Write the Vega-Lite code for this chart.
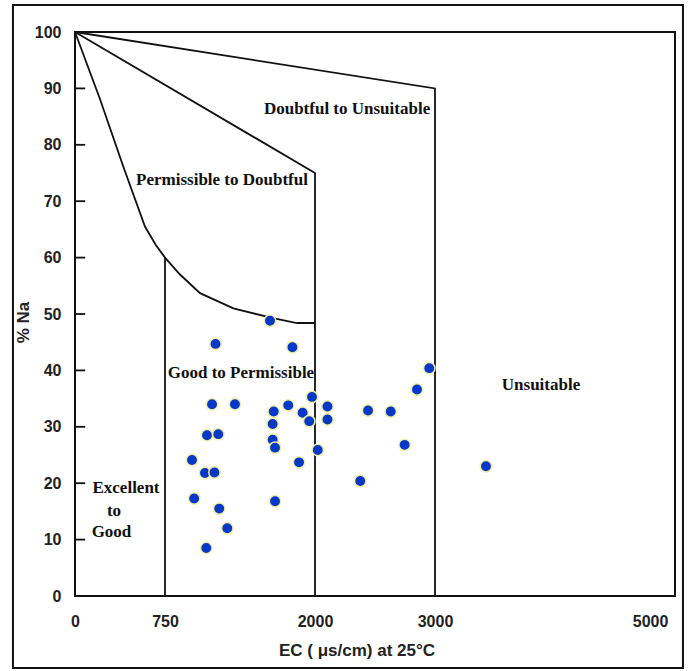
{
  "$schema": "https://vega.github.io/schema/vega-lite/v6.json",
  "width": 600,
  "height": 564,
  "autosize": {"type": "none"},
  "padding": {"left": 75, "top": 32, "right": 18, "bottom": 75},
  "background": "white",
  "config": {
    "view": {"stroke": "#111", "strokeWidth": 2},
    "axis": {"grid": false, "labelFont": "Liberation Sans", "labelFontWeight": "bold", "labelFontSize": 16, "labelColor": "#222", "titleFont": "Liberation Sans", "titleFontWeight": "bold", "titleFontSize": 17, "titleColor": "#222"}
  },
  "datasets": {
    "boundaries": [
      {"seg": "A", "i": 0, "ec": 0, "na": 100},
      {"seg": "A", "i": 1, "ec": 3000, "na": 90},
      {"seg": "A", "i": 2, "ec": 3000, "na": 0},
      {"seg": "B", "i": 0, "ec": 0, "na": 100},
      {"seg": "B", "i": 1, "ec": 2000, "na": 75},
      {"seg": "B", "i": 2, "ec": 2000, "na": 0},
      {"seg": "C", "i": 0, "ec": 0, "na": 100},
      {"seg": "C", "i": 1, "ec": 205, "na": 88.3},
      {"seg": "C", "i": 2, "ec": 403, "na": 76.1},
      {"seg": "C", "i": 3, "ec": 583, "na": 65.5},
      {"seg": "C", "i": 4, "ec": 675, "na": 62.2},
      {"seg": "C", "i": 5, "ec": 750, "na": 60},
      {"seg": "C", "i": 6, "ec": 875, "na": 57},
      {"seg": "C", "i": 7, "ec": 1042, "na": 53.7},
      {"seg": "C", "i": 8, "ec": 1320, "na": 51},
      {"seg": "C", "i": 9, "ec": 1640, "na": 49.3},
      {"seg": "C", "i": 10, "ec": 1850, "na": 48.4},
      {"seg": "C", "i": 11, "ec": 2000, "na": 48.4},
      {"seg": "D", "i": 0, "ec": 750, "na": 60},
      {"seg": "D", "i": 1, "ec": 750, "na": 0},
      {"seg": "t10", "i": 0, "ec": 0, "na": 10}, {"seg": "t10", "i": 1, "ec": 85, "na": 10},
      {"seg": "t20", "i": 0, "ec": 0, "na": 20}, {"seg": "t20", "i": 1, "ec": 85, "na": 20},
      {"seg": "t30", "i": 0, "ec": 0, "na": 30}, {"seg": "t30", "i": 1, "ec": 85, "na": 30},
      {"seg": "t40", "i": 0, "ec": 0, "na": 40}, {"seg": "t40", "i": 1, "ec": 85, "na": 40},
      {"seg": "t50", "i": 0, "ec": 0, "na": 50}, {"seg": "t50", "i": 1, "ec": 85, "na": 50},
      {"seg": "t60", "i": 0, "ec": 0, "na": 60}, {"seg": "t60", "i": 1, "ec": 85, "na": 60},
      {"seg": "t70", "i": 0, "ec": 0, "na": 70}, {"seg": "t70", "i": 1, "ec": 85, "na": 70},
      {"seg": "t80", "i": 0, "ec": 0, "na": 80}, {"seg": "t80", "i": 1, "ec": 85, "na": 80},
      {"seg": "t90", "i": 0, "ec": 0, "na": 90}, {"seg": "t90", "i": 1, "ec": 85, "na": 90}
    ],
    "samples": [
      {"ec": 1625, "na": 48.8}, {"ec": 1171, "na": 44.7}, {"ec": 1812, "na": 44.1},
      {"ec": 1142, "na": 34.0}, {"ec": 1333, "na": 34.0}, {"ec": 1975, "na": 35.3},
      {"ec": 1777, "na": 33.8}, {"ec": 1656, "na": 32.7}, {"ec": 2104, "na": 33.6},
      {"ec": 1897, "na": 32.5}, {"ec": 1952, "na": 31.0}, {"ec": 2104, "na": 31.3},
      {"ec": 1647, "na": 30.5}, {"ec": 1100, "na": 28.5}, {"ec": 1194, "na": 28.7},
      {"ec": 1647, "na": 27.7}, {"ec": 1667, "na": 26.3}, {"ec": 2023, "na": 25.9},
      {"ec": 1867, "na": 23.7}, {"ec": 975, "na": 24.1}, {"ec": 1083, "na": 21.8},
      {"ec": 1162, "na": 21.9}, {"ec": 993, "na": 17.3}, {"ec": 1667, "na": 16.8},
      {"ec": 1202, "na": 15.5}, {"ec": 1269, "na": 12.0}, {"ec": 1094, "na": 8.5},
      {"ec": 2952, "na": 40.4}, {"ec": 2850, "na": 36.6}, {"ec": 2442, "na": 32.9},
      {"ec": 2631, "na": 32.7}, {"ec": 2747, "na": 26.8}, {"ec": 2377, "na": 20.4},
      {"ec": 3474, "na": 23.0}
    ],
    "zones": [
      {"label": "Doubtful to Unsuitable", "ec": 2267, "na": 86.3},
      {"label": "Permissible to Doubtful", "ec": 1225, "na": 73.8},
      {"label": "Good to Permissible", "ec": 1383, "na": 39.5},
      {"label": "Unsuitable", "ec": 3986, "na": 37.4},
      {"label": "Excellent", "ec": 425, "na": 19.1},
      {"label": "to", "ec": 325, "na": 15.0},
      {"label": "Good", "ec": 304, "na": 11.4}
    ]
  },
  "layer": [
    {
      "data": {"name": "boundaries"},
      "mark": {"type": "line", "color": "#111", "strokeWidth": 1.8},
      "encoding": {
        "x": {"field": "ec", "type": "quantitative",
          "scale": {"domain": [0, 3000, 5232], "range": [0, 360, 600], "nice": false, "zero": false},
          "axis": {"values": [0, 750, 2000, 3000, 5000], "format": "d", "ticks": false, "domain": false, "labelPadding": 25, "labelBaseline": "middle", "labelFlush": false, "title": "EC ( μs/cm) at 25°C", "titleX": 281.5, "titleY": 54, "titleBaseline": "middle"}},
        "y": {"field": "na", "type": "quantitative",
          "scale": {"domain": [0, 100], "nice": false, "zero": true},
          "axis": {"values": [0, 10, 20, 30, 40, 50, 60, 70, 80, 90, 100], "ticks": false, "domain": false, "labelPadding": 14, "labelFlush": false, "title": "% Na", "titleX": -52, "titleY": 290, "titleBaseline": "middle", "titleAlign": "center"}},
        "detail": {"field": "seg"},
        "order": {"field": "i", "type": "quantitative"}
      }
    },
    {
      "data": {"values": [{"frame": "outer"}]},
      "mark": {"type": "rect", "filled": false, "stroke": "#111", "strokeWidth": 2},
      "encoding": {
        "x": {"datum": -517, "type": "quantitative"},
        "x2": {"datum": 5306},
        "y": {"datum": 104.79, "type": "quantitative"},
        "y2": {"datum": -12.77}
      }
    },
    {
      "data": {"name": "samples"},
      "mark": {"type": "circle", "size": 130, "color": "#0638c8", "opacity": 1, "stroke": "#f0eeaa", "strokeWidth": 1.5},
      "encoding": {
        "x": {"field": "ec", "type": "quantitative"},
        "y": {"field": "na", "type": "quantitative"}
      }
    },
    {
      "data": {"name": "zones"},
      "mark": {"type": "text", "font": "Liberation Serif", "fontWeight": "bold", "fontSize": 17, "color": "#111", "align": "center", "baseline": "middle"},
      "encoding": {
        "x": {"field": "ec", "type": "quantitative"},
        "y": {"field": "na", "type": "quantitative"},
        "text": {"field": "label"}
      }
    }
  ]
}
